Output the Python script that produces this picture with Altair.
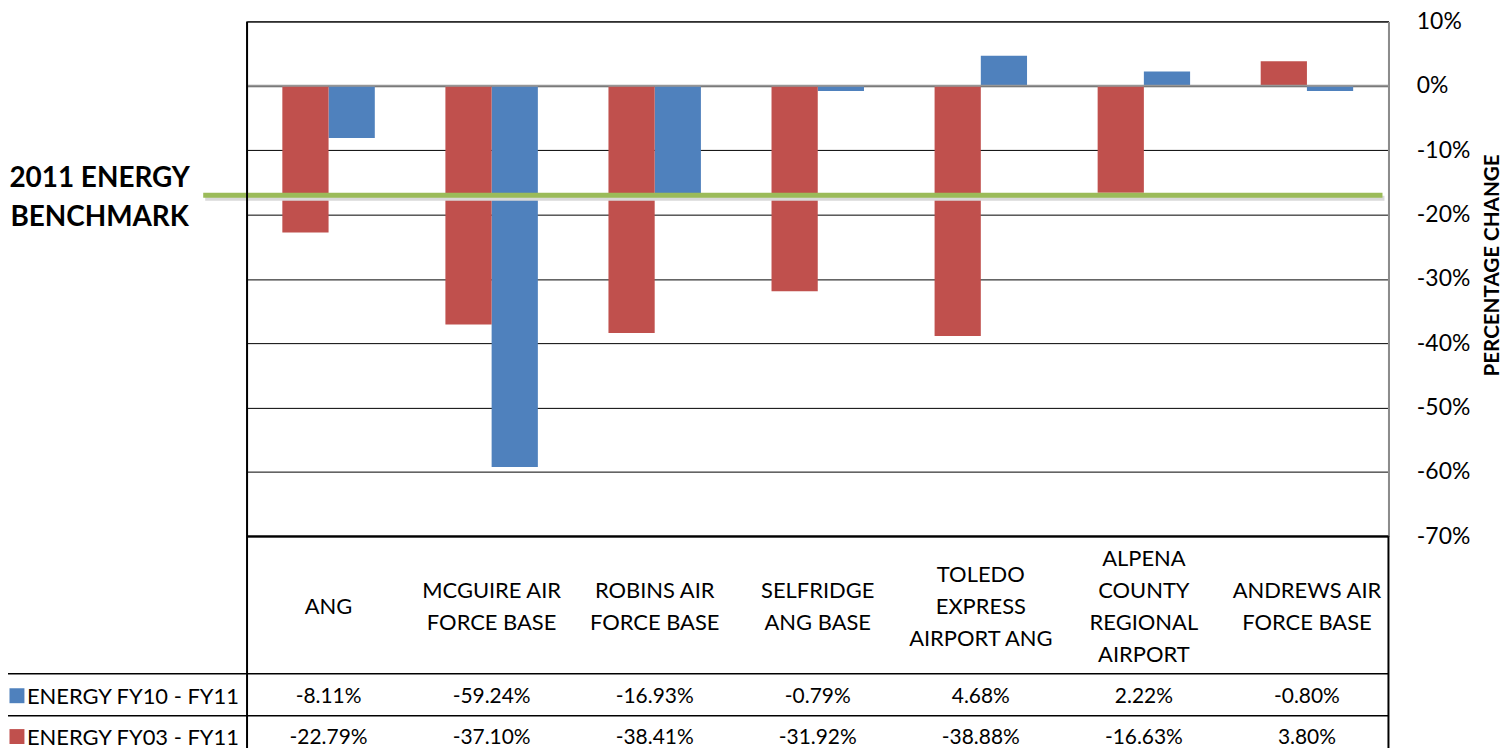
import altair as alt
import pandas as pd

# ---- data ----
categories = [
    "ANG",
    "MCGUIRE AIR FORCE BASE",
    "ROBINS AIR FORCE BASE",
    "SELFRIDGE ANG BASE",
    "TOLEDO EXPRESS AIRPORT ANG",
    "ALPENA COUNTY REGIONAL AIRPORT",
    "ANDREWS AIR FORCE BASE",
]
category_labels = [
    "ANG",
    "MCGUIRE AIR\nFORCE BASE",
    "ROBINS AIR\nFORCE BASE",
    "SELFRIDGE\nANG BASE",
    "TOLEDO\nEXPRESS\nAIRPORT ANG",
    "ALPENA\nCOUNTY\nREGIONAL\nAIRPORT",
    "ANDREWS AIR\nFORCE BASE",
]
energy_fy10_fy11 = [-8.11, -59.24, -16.93, -0.79, 4.68, 2.22, -0.80]
energy_fy03_fy11 = [-22.79, -37.10, -38.41, -31.92, -38.88, -16.63, 3.80]
series_names = ["ENERGY FY10 - FY11", "ENERGY FY03 - FY11"]
series_colors = ["#4F81BD", "#C0504D"]
benchmark_value = [-17.0]
benchmark_label = ["2011 ENERGY\nBENCHMARK"]
y_ticks = [10, 0, -10, -20, -30, -40, -50, -60, -70]
axis_title = ["PERCENTAGE CHANGE"]

# ---- layout ----
W, H = 1146, 517
FONT = "Lato"
FS = 21
FS_CAT = 22
LINE = "black"
LABEL_CENTER = 588
LABEL_LH = 32


def pct(v):
    return f"{v:.2f}%"


bars_df = pd.DataFrame({
    "cat": categories * 2,
    "series": [series_names[0]] * len(categories) + [series_names[1]] * len(categories),
    "value": energy_fy10_fy11 + energy_fy03_fy11,
})
table_df = pd.DataFrame({
    "cat": categories,
    "label": category_labels,
    "n": [lbl.count("\n") + 1 for lbl in category_labels],
    "t10": [pct(v) for v in energy_fy10_fy11],
    "t03": [pct(v) for v in energy_fy03_fy11],
})

x_scale = alt.Scale(domain=categories, paddingInner=0.433, paddingOuter=0.2165)
y_scale = alt.Scale(domain=[-70, 10], nice=False, zero=False)
y_axis = alt.Axis(
    orient="right",
    values=y_ticks,
    labelExpr="(datum.value < 0 ? '-' : '') + abs(datum.value) + '%'",
    grid=True,
    gridColor="black",
    gridWidth=1,
    ticks=False,
    tickSize=0,
    labelPadding=28,
    domainColor="#8c8c8c",
    domainWidth=2,
    labelFont=FONT,
    labelFontSize=23,
    labelColor="black",
    title=None,
)

bars = alt.Chart(bars_df).mark_bar().encode(
    x=alt.X("cat:N", scale=x_scale, axis=None),
    xOffset=alt.XOffset("series:N", scale=alt.Scale(domain=[series_names[1], series_names[0]], paddingInner=0, paddingOuter=0)),
    y=alt.Y("value:Q", scale=y_scale, stack=None, axis=y_axis),
    y2=alt.datum(0),
    color=alt.Color("series:N", scale=alt.Scale(domain=series_names, range=series_colors), legend=None),
)

zero_rule = alt.Chart(pd.DataFrame({"value": [0]})).mark_rule(color="#969696", strokeWidth=2).encode(
    y=alt.Y("value:Q", scale=y_scale, axis=y_axis), x=alt.value(0), x2=alt.value(W)
)

bench_df = pd.DataFrame({"value": benchmark_value, "label": benchmark_label})
bench_shadow = alt.Chart(bench_df).mark_rule(color="#d9d9d9", strokeWidth=5, yOffset=3).encode(
    y=alt.Y("value:Q", scale=y_scale, axis=y_axis), x=alt.value(-42), x2=alt.value(1142)
)
bench_rule = alt.Chart(bench_df).mark_rule(color="#9BBB59", strokeWidth=5).encode(
    y=alt.Y("value:Q", scale=y_scale, axis=y_axis), x=alt.value(-44), x2=alt.value(1140)
)
bench_text = alt.Chart(bench_df).mark_text(
    font=FONT, fontSize=28, fontWeight="bold", lineBreak="\n", lineHeight=39,
    align="center", baseline="middle", color="black",
).encode(x=alt.value(-148), y=alt.value(158), text="label:N")

title_text = alt.Chart(pd.DataFrame({"t": axis_title})).mark_text(
    font=FONT, fontSize=20.7, fontWeight="bold", angle=270,
    align="center", baseline="middle", color="black",
).encode(x=alt.value(1251), y=alt.value(245), text="t:N")

cat_layers = []
for n in sorted(table_df["n"].unique()):
    cat_layers.append(
        alt.Chart(table_df).transform_filter(alt.datum.n == int(n)).mark_text(
            font=FONT, fontSize=FS_CAT, lineBreak="\n", lineHeight=LABEL_LH,
            align="center", baseline="middle", color="black",
        ).encode(
            x=alt.X("cat:N", scale=x_scale, axis=None),
            y=alt.value(LABEL_CENTER - (int(n) - 1) * LABEL_LH / 2),
            text="label:N",
        )
    )

row_y = [678, 719]

row10 = alt.Chart(table_df).mark_text(
    font=FONT, fontSize=FS, align="center", baseline="middle", color="black"
).encode(x=alt.X("cat:N", scale=x_scale, axis=None), y=alt.value(row_y[0]), text="t10:N")

row03 = alt.Chart(table_df).mark_text(
    font=FONT, fontSize=FS, align="center", baseline="middle", color="black"
).encode(x=alt.X("cat:N", scale=x_scale, axis=None), y=alt.value(row_y[1]), text="t03:N")

legend_layers = []
for name, col, ry in zip(series_names, series_colors, row_y):
    ldf = pd.DataFrame({"series": [name]})
    legend_layers.append(
        alt.Chart(ldf).mark_square(size=225, color=col, opacity=1).encode(
            x=alt.value(-231), y=alt.value(ry - 1)
        )
    )
    legend_layers.append(
        alt.Chart(ldf).mark_text(
            font=FONT, fontSize=22, align="left", baseline="middle", color="black"
        ).encode(x=alt.value(-221), y=alt.value(ry), text="series:N")
    )

one = pd.DataFrame({"k": [0]})


def line(x1, x2, y1, y2, w=1.5):
    return alt.Chart(one).mark_rule(color=LINE, strokeWidth=w).encode(
        x=alt.value(x1), x2=alt.value(x2), y=alt.value(y1), y2=alt.value(y2)
    )


frame = [
    line(0, 0, 0, 740, 2),
    line(W, W, H, 740, 2),
    line(0, W, H, H, 2),
    line(-240, W, 655, 655, 1.5),
    line(-240, W, 697, 697, 1.5),
]

chart = alt.layer(
    bars, zero_rule, bench_shadow, bench_rule, bench_text, title_text,
    *cat_layers, row10, row03, *legend_layers, *frame,
).properties(
    width=W,
    height=H,
    autosize=alt.AutoSizeParams(type="none"),
    padding={"left": 240, "top": 12, "right": 115, "bottom": 211},
).configure_view(stroke="black", strokeWidth=1)

chart.save("out.html", embed_options={"renderer": "svg", "actions": False})
